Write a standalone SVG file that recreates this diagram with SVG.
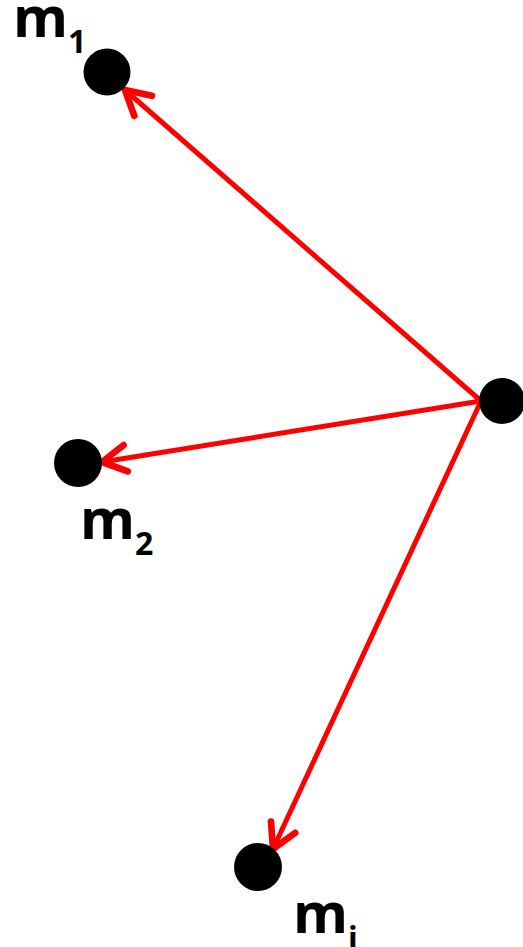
<svg xmlns="http://www.w3.org/2000/svg" width="523" height="947" viewBox="0 0 523 947">
<style>
.dot{fill:#000}
.lbl{font-family:"Open Sans","DejaVu Sans",sans-serif;font-weight:bold;font-size:56px;fill:#000}
.sub{font-size:32px}
.edge{stroke:#f00;stroke-width:5;fill:none;stroke-linecap:round}
</style>
<defs>
<marker id="arr" markerUnits="userSpaceOnUse" markerWidth="40" markerHeight="40" viewBox="-25 -15 30 30" refX="0" refY="0" orient="auto">
<path d="M-18,-10 L0,0 L-18,10" fill="none" stroke="#f00" stroke-width="5" stroke-linecap="round" stroke-linejoin="round"/>
</marker>
</defs>
<g id="connectors">
<line class="edge" x1="481" y1="401" x2="125" y2="90" marker-end="url(#arr)"/>
<line class="edge" x1="481" y1="401" x2="102" y2="462" marker-end="url(#arr)"/>
<line class="edge" x1="481" y1="401" x2="273" y2="849" marker-end="url(#arr)"/>
</g>
<g id="m1">
<circle class="dot" cx="107" cy="72" r="23.5"/>
<text class="lbl" x="13" y="37">m</text><text class="lbl sub" x="68" y="53">1</text>
</g>
<g id="m2">
<circle class="dot" cx="78" cy="463" r="24"/>
<text class="lbl" x="80" y="539">m</text><text class="lbl sub" x="135" y="555">2</text>
</g>
<g id="mi">
<circle class="dot" cx="258" cy="867" r="24"/>
<text class="lbl" x="293" y="933">m</text><text class="lbl sub" x="348" y="950">i</text>
</g>
<g id="source">
<circle class="dot" cx="502" cy="401" r="23"/>
</g>
</svg>
